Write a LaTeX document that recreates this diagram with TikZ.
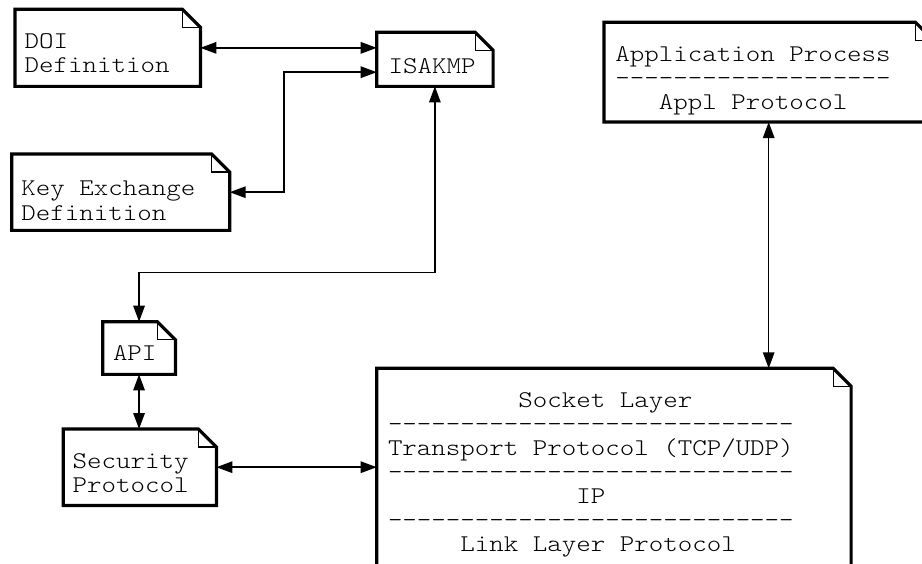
\documentclass[tikz,border=0pt]{standalone}
\usepackage{fontspec}
\usetikzlibrary{arrows.meta}

% light typewriter face for the box texts, widened to a 0.6em pitch
\newfontfamily\lightmono[FakeStretch=1.15]{lmmonolt10-regular.otf}

% stacked text lines with a fixed baseline distance
\newcommand\rows[1]{\vtop{\baselineskip=24.1pt\lineskiplimit=-\maxdimen\lineskip=0pt #1}}
% blank space of n monospaced characters
\newcommand\pad[1]{\setbox0\hbox{M}\hskip#1\wd0\relax}
% a row of n separate hyphens
\newcommand\dashrow[1]{\foreach \dd in {1,...,#1}{-\kern0pt}}

\tikzset{
  docbox/.style={rectangle, inner sep=0pt, anchor=north west},
  outline/.style={line width=3.2pt, line join=miter},
  foldline/.style={line width=1.2pt},
  link/.style={line width=1.5pt,
    {Triangle[length=16pt,width=11.5pt]}-{Triangle[length=16pt,width=11.5pt]}},
  boxtext/.style={anchor=base west, inner sep=0pt,
    font=\lightmono\fontsize{24}{24.1}\selectfont},
}

\begin{document}
\begin{tikzpicture}[x=1pt,y=-1pt]
\path[use as bounding box] (0,0) rectangle (922,564);
\clip (0,0) rectangle (922,564);
\fill[white] (0,0) rectangle (922,564);

% document boxes
\node[docbox, minimum width=185pt,   minimum height=76.7pt] (doi)    at (15,9.3)     {};
\node[docbox, minimum width=217.6pt, minimum height=76pt]   (key)    at (11.7,154)   {};
\node[docbox, minimum width=116pt,   minimum height=53.7pt] (isakmp) at (376.7,32.3) {};
\node[docbox, minimum width=329pt,   minimum height=99.4pt] (app)    at (604,22.3)   {};
\node[docbox, minimum width=72.3pt,  minimum height=52.3pt] (api)    at (102.7,321.7){};
\node[docbox, minimum width=152.7pt, minimum height=76pt]   (sec)    at (63.3,429)   {};
\node[docbox, minimum width=474pt,   minimum height=300pt]  (sock)   at (376.7,368.3){};

% outlines with a folded top right corner
\def\fold{18pt}
\foreach \n in {doi,key,isakmp,app,api,sec,sock}{
  \draw[outline] (\n.south west) -- (\n.north west)
    -- ([xshift=-\fold]\n.north east) -- ([yshift=-\fold]\n.north east)
    -- (\n.south east) -- cycle;
  \draw[foldline] ([xshift=-\fold]\n.north east) |- ([yshift=-\fold]\n.north east);
}

% texts
\node[boxtext] (doitext)    at (24.5,48.3)  {\rows{\hbox{DOI}\hbox{Definition}}};
\node[boxtext] (keytext)    at (21.2,196)   {\rows{\hbox{Key Exchange}\hbox{Definition}}};
\node[boxtext] (isakmptext) at (388.5,73.3) {ISAKMP};
\node[boxtext] (apptext)    at (615.2,61.7) {\rows{\hbox{Application Process}\hbox{\dashrow{19}}\hbox{\pad{3}Appl Protocol}}};
\node[boxtext] (apitext)    at (112.8,360.7){API};
\node[boxtext] (sectext)    at (72.5,468.3) {\rows{\hbox{Security}\hbox{Protocol}}};
\node[boxtext] (socktext)   at (387.8,407.3){\rows{%
  \hbox{\pad{9}Socket Layer}\hbox{\dashrow{28}}%
  \hbox{Transport Protocol (TCP/UDP)}\hbox{\dashrow{28}}%
  \hbox{\pad{13}IP}\hbox{\dashrow{28}}%
  \hbox{\pad{5}Link Layer Protocol}}};

% connectors
\coordinate (keybend) at (284,72.2);
\coordinate (apibend) at (0,272.7);
\draw[link] (doi.east) -- (doi.east -| isakmp.west);
\draw[link] (key.east) -| (keybend) -- (keybend -| isakmp.west);
\draw[link] (api.north) |- (isakmp.south |- apibend) -- (isakmp.south);
\draw[link] (api.south) -- (api.south |- sec.north);
\draw[link] (sec.east) -- (sec.east -| sock.west);
\draw[link] (app.south) -- (app.south |- sock.north);
\end{tikzpicture}
\end{document}
